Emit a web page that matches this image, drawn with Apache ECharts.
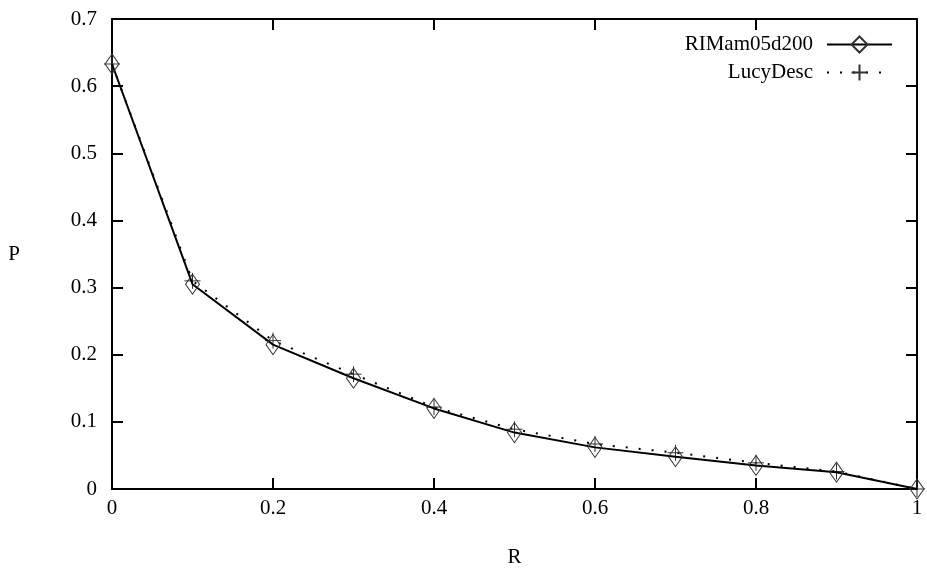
<!DOCTYPE html>
<html>
<head>
<meta charset="utf-8">
<script src="https://cdn.jsdelivr.net/npm/echarts@6/dist/echarts.min.js"></script>
<style>
  html, body { margin: 0; padding: 0; background: #fff; }
  #chart { width: 927px; height: 573px; }
</style>
</head>
<body>
<div id="chart"></div>
<script>
// recall levels (R) and precision values (P)
const recall = [0, 0.1, 0.2, 0.3, 0.4, 0.5, 0.6, 0.7, 0.8, 0.9, 1];
const rimValues = [0.633, 0.305, 0.215, 0.165, 0.12, 0.084, 0.062, 0.048, 0.035, 0.025, 0];
const lucyValues = [0.633, 0.31, 0.221, 0.171, 0.122, 0.089, 0.067, 0.054, 0.039, 0.026, 0];
const seriesNames = ['RIMam05d200', 'LucyDesc'];

const font = 'Liberation Serif';
const plusPath = 'path://M0,5 L10,5 M5,0 L5,10';

const toPairs = vals => recall.map((r, i) => [r, vals[i]]);

const myChart = echarts.init(document.getElementById('chart'));

const tickAxis = {
  axisLine: { show: true, onZero: false, lineStyle: { color: '#000', width: 2 } },
  axisTick: { show: true, inside: true, length: 11, lineStyle: { color: '#000', width: 2 } },
  splitLine: { show: false },
};

const option = {
  animation: false,
  backgroundColor: '#fff',
  grid: { left: 112, right: 10, top: 19, bottom: 83 },
  legend: {
    orient: 'vertical',
    right: 29,
    top: 29,
    align: 'right',
    itemWidth: 65,
    itemHeight: 20,
    itemGap: 7,
    textStyle: { fontFamily: font, fontSize: 21, color: '#000', padding: [0, 9, 0, 0] },
    data: seriesNames,
  },
  xAxis: [
    {
      type: 'value',
      min: 0,
      max: 1,
      interval: 0.2,
      name: 'R',
      nameLocation: 'middle',
      nameGap: 58,
      nameTextStyle: { fontFamily: font, fontSize: 21, color: '#000' },
      axisLabel: { margin: 9, fontFamily: font, fontSize: 21, color: '#000' },
      ...tickAxis,
    },
    {
      type: 'value',
      position: 'top',
      min: 0,
      max: 1,
      interval: 0.2,
      axisLabel: { show: false },
      ...tickAxis,
    },
  ],
  yAxis: [
    {
      type: 'value',
      min: 0,
      max: 0.7,
      interval: 0.1,
      name: 'P',
      nameLocation: 'middle',
      nameRotate: 0,
      nameGap: 92,
      nameTextStyle: { fontFamily: font, fontSize: 21, color: '#000' },
      axisLabel: { margin: 15, fontFamily: font, fontSize: 21, color: '#000' },
      ...tickAxis,
    },
    {
      type: 'value',
      position: 'right',
      min: 0,
      max: 0.7,
      interval: 0.1,
      axisLabel: { show: false },
      ...tickAxis,
    },
  ],
  series: [
    {
      name: seriesNames[1],
      type: 'line',
      data: toPairs(lucyValues),
      symbol: plusPath,
      symbolSize: 16,
      showAllSymbol: true,
      lineStyle: { color: '#000', width: 2, type: [2, 11] },
      itemStyle: { color: 'transparent', borderColor: '#333', borderWidth: 1 },
      z: 2,
    },
    {
      name: seriesNames[0],
      type: 'line',
      data: toPairs(rimValues),
      symbol: 'diamond',
      symbolSize: [14, 20],
      showAllSymbol: true,
      lineStyle: { color: '#000', width: 2 },
      itemStyle: { color: 'transparent', borderColor: '#333', borderWidth: 1 },
      z: 3,
    },
  ],
};

myChart.setOption(option);
</script>
</body>
</html>
